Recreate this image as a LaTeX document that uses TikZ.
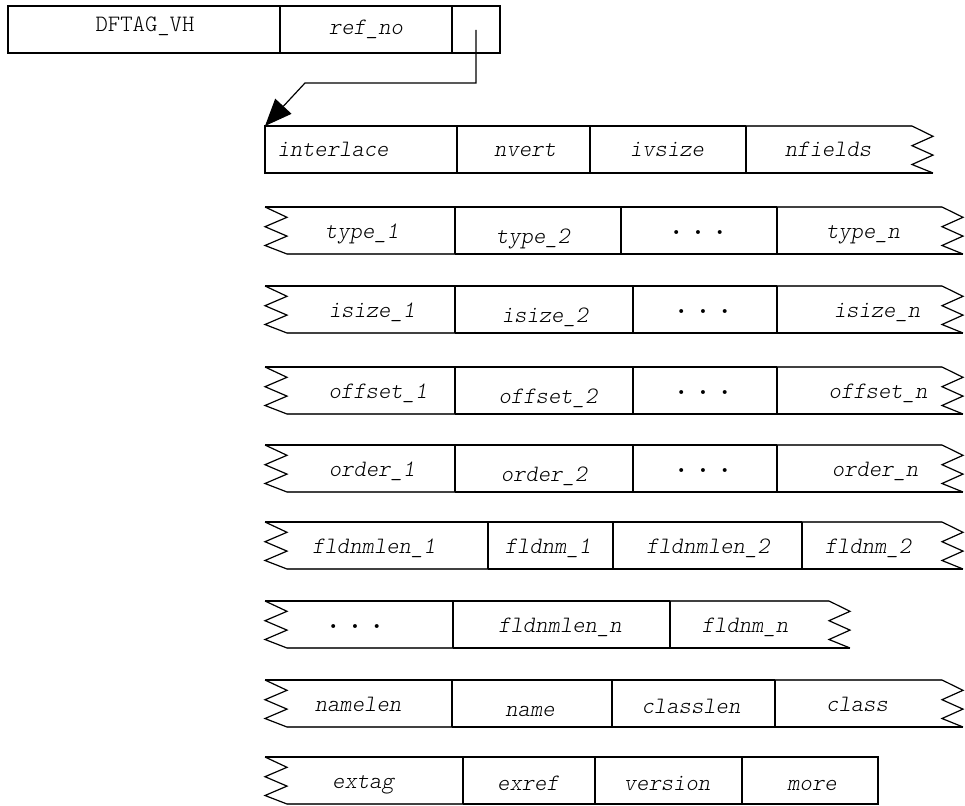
\documentclass[tikz,border=0pt]{standalone}
\usepackage{fontspec}
\newfontfamily\fieldfont{lmmonolt10-regular.otf}[ItalicFont=lmmonolt10-oblique.otf]
\usetikzlibrary{arrows.meta}
% torn left / right ends of a record row (outer x, top y)
\newcommand{\zigL}[2]{\draw[zig] (#1,#2) -- ++(22,10.3) -- ++(-22,9.4) -- ++(22,9.4) -- ++(-22,9.4) -- ++(22,8.5);}
\newcommand{\zigR}[2]{\draw[zig] (#1-21,#2) -- ++(21,10.3) -- ++(-21,9.4) -- ++(21,9.4) -- ++(-21,9.4) -- ++(21,8.5);}
% row with torn ends: top y, first divider, last divider, right outer x, dividers
\newcommand{\fieldrow}[5]{%
  \draw[cell] (265,#1) -- (#3,#1);
  \draw[thinedge] (#3,#1) -- (#4-21,#1);
  \draw[thinedge] (287,#1+47) -- (#2,#1+47);
  \draw[cell] (#2,#1+47) -- (#4,#1+47);
  \zigL{265}{#1}
  \zigR{#4}{#1}
  \foreach \d in {#5} \draw[cell] (\d,#1) -- (\d,#1+47);}
\newcommand{\fielddots}{·\hspace{.08em}·\hspace{.08em}·}
\begin{document}
\begin{tikzpicture}[x=1pt, y=-1pt,
  cell/.style={line width=2pt},
  thinedge/.style={line width=1.1pt, black!75},
  zig/.style={line width=1.2pt, line join=miter},
  fld/.style={anchor=base, inner sep=0pt, font=\fieldfont\fontsize{23.5}{27}\selectfont\itshape},
  tag/.style={fld, font=\fieldfont\fontsize{23.5}{27}\selectfont\upshape},
  dots/.style={anchor=base, inner sep=0pt, font=\fieldfont\fontsize{36}{36}\selectfont\upshape},
  ptr/.style={line width=1.2pt, -{Triangle[length=27pt, width=22pt]}}]
\useasboundingbox (0,0) rectangle (965,805);
% Tag / ref header
\draw[cell] (8,6) rectangle (500,53);
\draw[cell] (280,6) -- (280,53) (452,6) -- (452,53);
\node[tag] (vh) at (145,32) {DFTAG\_VH};
\node[fld] (refno) at (366,35) {ref\_no};
\coordinate (ptr) at (476,30);
\coordinate (bend) at (305,83);
\coordinate (rec) at (265,126);
\draw[ptr] (ptr) |- (bend) -- (rec);
% Row 1: interlace ... nfields
\draw[cell] (746,126) -- (265,126) -- (265,173) -- (933,173);
\draw[thinedge] (746,126) -- (912,126);
\zigR{933}{126}
\foreach \d in {457,590,746} \draw[cell] (\d,126) -- (\d,173);
\node[fld] (interlace) at (333,157) {interlace};
\node[fld] (nvert) at (525,157) {nvert};
\node[fld] (ivsize) at (667,157) {ivsize};
\node[fld] (nfields) at (828,157) {nfields};
% Rows 2-5: per-field arrays
\foreach \nm/\y/\dm/\xa/\xb/\xc/\xd in {type/207/621/362/533/698/863,
  isize/286/633/372/545/703/877, offset/367/633/378/548/703/878,
  order/445/633/372/544/703/875} {
  \fieldrow{\y}{455}{777}{963}{455,\dm,777}
  \node[fld] (\nm1) at (\xa,\y+31) {\nm\_1};
  \node[fld] (\nm2) at (\xb,\y+36) {\nm\_2};
  \node[dots] (\nm dots) at (\xc,\y+36) {\fielddots};
  \node[fld] (\nm n) at (\xd,\y+31) {\nm\_n};
}
% Row 6: field names
\fieldrow{522}{488}{802}{963}{488,613,802}
\node[fld] (fldnmlen1) at (374,553) {fldnmlen\_1};
\node[fld] (fldnm1) at (548,553) {fldnm\_1};
\node[fld] (fldnmlen2) at (708,553) {fldnmlen\_2};
\node[fld] (fldnm2) at (868,553) {fldnm\_2};
% Row 7
\fieldrow{601}{453}{670}{850}{453,670}
\node[dots] (fnmdots) at (355,637) {\fielddots};
\node[fld] (fldnmlenn) at (560,632) {fldnmlen\_n};
\node[fld] (fldnmn) at (745,632) {fldnm\_n};
% Row 8: name / class
\fieldrow{680}{452}{775}{963}{452,612,775}
\node[fld] (namelen) at (358,711) {namelen};
\node[fld] (name) at (530,716) {name};
\node[fld] (classlen) at (691,713) {classlen};
\node[fld] (class) at (857,711) {class};
% Row 9: extension
\draw[cell] (265,757) -- (878,757) -- (878,804) -- (463,804);
\draw[thinedge] (463,804) -- (287,804);
\zigL{265}{757}
\foreach \d in {463,595,742} \draw[cell] (\d,757) -- (\d,804);
\node[fld] (extag) at (363,788) {extag};
\node[fld] (exref) at (528,790) {exref};
\node[fld] (version) at (667,790) {version};
\node[fld] (more) at (812,790) {more};
\end{tikzpicture}
\end{document}
